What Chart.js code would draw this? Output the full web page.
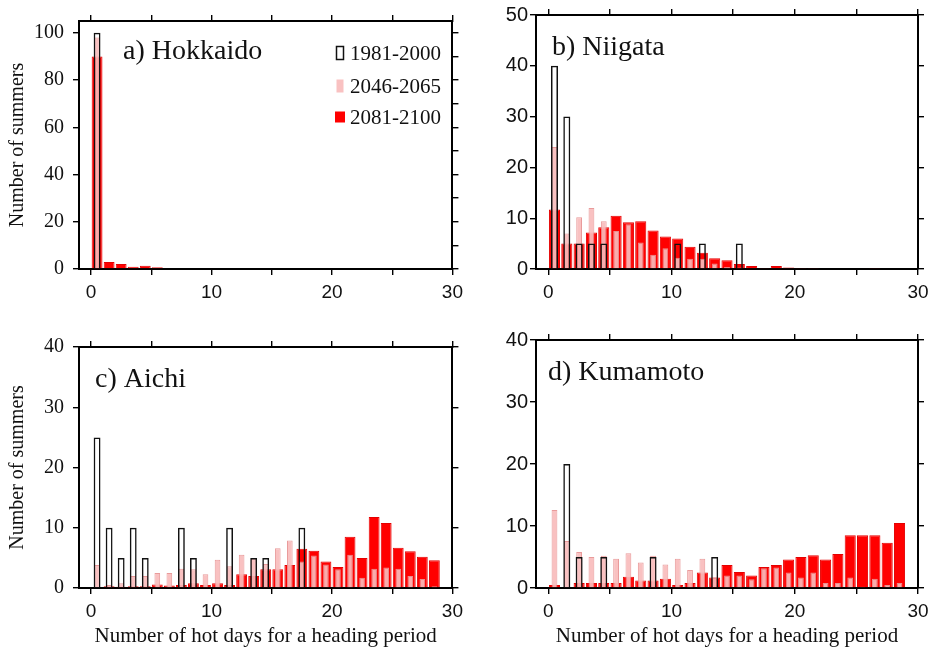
<!DOCTYPE html>
<html>
<head>
<meta charset="utf-8">
<script src="https://cdn.jsdelivr.net/npm/chart.js@4.4.1/dist/chart.umd.min.js"></script>
<style>
  html, body { margin: 0; padding: 0; background: #fff; }
  #fig { position: relative; width: 938px; height: 652px; overflow: hidden; }
  .panel { position: absolute; width: 469px; height: 326px; }
</style>
</head>
<body>
<div id="fig">
  <div class="panel" style="left:0;top:0"><canvas id="chartA" width="469" height="326"></canvas></div>
  <div class="panel" style="left:469px;top:0"><canvas id="chartB" width="469" height="326"></canvas></div>
  <div class="panel" style="left:0;top:326px"><canvas id="chartC" width="469" height="326"></canvas></div>
  <div class="panel" style="left:469px;top:326px"><canvas id="chartD" width="469" height="326"></canvas></div>
</div>
<script>
// number of hot days (histogram bins), bars drawn at bin centre
var hotDays = [0, 1, 2, 3, 4, 5, 6, 7, 8, 9, 10, 11, 12, 13, 14, 15, 16, 17, 18, 19, 20, 21, 22, 23, 24, 25, 26, 27, 28, 29];
var periods = ['1981-2000', '2046-2065', '2081-2100'];

// a) Hokkaido
var hokkaido1981 = [100, 0, 0, 0, 0, 0, 0, 0, 0, 0, 0, 0, 0, 0, 0, 0, 0, 0, 0, 0, 0, 0, 0, 0, 0, 0, 0, 0, 0, 0];
var hokkaido2046 = [98, 0, 0, 0, 0, 0, 0, 0, 0, 0, 0, 0, 0, 0, 0, 0, 0, 0, 0, 0, 0, 0, 0, 0, 0, 0, 0, 0, 0, 0];
var hokkaido2081 = [90, 3.0, 2.1, 1.0, 1.4, 0.7, 0.3, 0, 0, 0, 0, 0, 0, 0, 0, 0, 0, 0, 0, 0, 0, 0, 0, 0, 0, 0, 0, 0, 0, 0];

// b) Niigata
var niigata1981 = [40, 30, 5, 5, 5, 0, 0, 0, 0, 0, 5, 0, 5, 0, 0, 5, 0, 0, 0, 0, 0, 0, 0, 0, 0, 0, 0, 0, 0, 0];
var niigata2046 = [24, 7, 10.2, 12, 9.4, 7.5, 8.8, 5.2, 2.8, 4.1, 2.2, 2, 2, 1.1, 0.4, 0.3, 0, 0, 0, 0, 0, 0, 0, 0, 0, 0, 0, 0, 0, 0];
var niigata2081 = [11.7, 5, 5, 7.2, 8.2, 10.5, 9.2, 9.4, 7.6, 6.4, 6, 4.4, 3.2, 2.1, 1.7, 1, 0.6, 0.2, 0.6, 0.3, 0.1, 0.2, 0, 0, 0, 0, 0.1, 0, 0, 0];

// c) Aichi
var aichi1981 = [25, 10, 5, 10, 5, 0, 0, 10, 5, 0, 0, 10, 0, 5, 5, 0, 0, 10, 0, 0, 0, 0, 0, 0, 0, 0, 0, 0, 0, 0];
var aichi2046 = [3.8, 0.5, 0.8, 2, 2, 2.5, 2.5, 3.2, 3.1, 2.3, 4.7, 3.6, 5.5, 5, 4, 6.6, 7.9, 4.4, 5.4, 3.9, 3.1, 5.5, 1.7, 3.2, 3.4, 3.2, 2, 1.5, 0.3, 0];
var aichi2081 = [0, 0.3, 0.2, 0.3, 0.3, 0.6, 0.4, 0.5, 0.8, 0.5, 0.8, 0.5, 2.3, 2, 3.1, 3.1, 3.8, 6.5, 6.2, 4.4, 3.5, 8.5, 5, 11.8, 10.8, 6.7, 6.1, 5.2, 4.6, 0];

// d) Kumamoto
var kumamoto1981 = [0, 20, 5, 0, 5, 0, 0, 0, 5, 0, 0, 0, 0, 5, 0, 0, 0, 0, 0, 0, 0, 0, 0, 0, 0, 0, 0, 0, 0, 0];
var kumamoto2046 = [12.6, 7.6, 5.8, 5, 5.2, 4.7, 5.6, 4.1, 5.2, 3.8, 4.7, 2.9, 4.7, 1.7, 2, 2, 1.4, 3.2, 3.3, 2.5, 1.7, 2.5, 0.8, 0.8, 1.7, 0.2, 1.5, 0.5, 0.8, 0];
var kumamoto2081 = [0.5, 0, 0.8, 0.8, 0.8, 0.8, 1.8, 1.2, 1.2, 1.5, 0.5, 0.8, 2.5, 1.7, 3.7, 2.6, 2, 3.4, 3.7, 4.6, 5, 5.3, 4.6, 5.5, 8.5, 8.5, 8.5, 7.3, 10.5, 0];

var SERIF = '"Liberation Serif", "Times New Roman", serif';
var SANS = '"Liberation Sans", Arial, sans-serif';

var styles = [
    { backgroundColor: 'rgba(0,0,0,0)', borderColor: '#111', borderWidth: 1.5, barPercentage: 0.57 },
    { backgroundColor: 'rgba(248,188,188,0.92)', borderColor: 'rgba(232,150,150,0.95)', borderWidth: 1, barPercentage: 0.47 },
    { backgroundColor: '#ff0000', borderColor: '#e40000', borderWidth: 1, barPercentage: 0.9 }
];

function toPoints(values) {
    var pts = [];
    for (var i = 0; i < hotDays.length; i++) {
        if (values[i]) pts.push({ x: hotDays[i] + 0.5, y: values[i] });
    }
    return pts;
}

function fixSize(size) {
    return function(scale) {
        if (scale.isHorizontal()) scale.height = size;
        else scale.width = size;
    };
}

function makePanel(id, series, cfg) {
    var datasets = [];
    for (var k = 0; k < series.length; k++) {
        datasets.push({
            label: periods[k],
            data: toPoints(series[k]),
            backgroundColor: styles[k].backgroundColor,
            borderColor: styles[k].borderColor,
            borderWidth: styles[k].borderWidth,
            borderSkipped: 'start',
            barPercentage: styles[k].barPercentage,
            categoryPercentage: 1,
            grouped: false
        });
    }

    var gridOut = { drawOnChartArea: false, drawTicks: true, tickLength: 6, color: '#000', lineWidth: 1.4, offset: false };
    var border = { display: true, color: '#000', width: 2 };

    var labelPlugin = {
        id: 'panelText',
        afterDraw: function(chart) {
            var ctx = chart.ctx, a = chart.chartArea;
            ctx.save();
            ctx.fillStyle = '#111';
            ctx.textBaseline = 'alphabetic';
            ctx.textAlign = 'left';
            ctx.font = '28px ' + SERIF;
            ctx.fillText(cfg.label, a.left + cfg.labelX, a.top + cfg.labelY);
            if (cfg.legend) {
                var rows = [32, 65, 96];
                for (var k = 0; k < 3; k++) {
                    var cy = a.top + rows[k];
                    var st = styles[k];
                    var bw = k === 2 ? 10 : 7, bh = k === 2 ? 11 : 13;
                    var bx = a.left + 261 - bw / 2;
                    ctx.fillStyle = st.backgroundColor;
                    ctx.fillRect(bx, cy - bh / 2, bw, bh);
                    if (k === 0) {
                        ctx.strokeStyle = st.borderColor;
                        ctx.lineWidth = 1.5;
                        ctx.strokeRect(bx, cy - bh / 2, bw, bh);
                    }
                    ctx.fillStyle = '#111';
                    ctx.font = '21px ' + SERIF;
                    ctx.textBaseline = 'middle';
                    ctx.fillText(periods[k], a.left + 271, cy + 1);
                }
            }
            ctx.restore();
        }
    };

    new Chart(document.getElementById(id).getContext('2d'), {
        type: 'bar',
        data: { datasets: datasets },
        options: {
            responsive: false,
            animation: false,
            devicePixelRatio: 1,
            layout: { padding: 0 },
            plugins: { legend: { display: false }, tooltip: { enabled: false } },
            scales: {
                x: {
                    type: 'linear', position: 'bottom', min: -1, max: 30, offset: false,
                    grid: gridOut, border: border,
                    ticks: {
                        stepSize: 5, includeBounds: false, padding: 6, color: '#111',
                        font: { family: SANS, size: 19 }, maxRotation: 0,
                        callback: function(v) { return v % 10 === 0 ? String(v) : ''; }
                    },
                    title: {
                        display: cfg.xTitle, text: 'Number of hot days for a heading period',
                        color: '#111', font: { family: SERIF, size: 21 }, padding: { top: 0, bottom: 3 }
                    },
                    afterFit: fixSize(cfg.bottom)
                },
                x2: {
                    type: 'linear', position: 'top', min: -1, max: 30, offset: false,
                    grid: gridOut, border: border,
                    ticks: { stepSize: 5, includeBounds: false, display: false },
                    afterFit: fixSize(cfg.top)
                },
                y: {
                    type: 'linear', position: 'left', min: 0, max: cfg.yMax,
                    grid: gridOut, border: border,
                    ticks: {
                        stepSize: 10, includeBounds: false, padding: cfg.yPad, color: '#111',
                        font: { family: cfg.yFont, size: cfg.yFontSize },
                        callback: function(v) { return v % cfg.yLabelEvery === 0 ? String(v) : ''; }
                    },
                    title: {
                        display: cfg.yTitle, text: 'Number of summers',
                        color: '#111', font: { family: SERIF, size: 20 }, padding: { top: 6, bottom: 0 }
                    },
                    afterFit: fixSize(cfg.left)
                },
                y2: {
                    type: 'linear', position: 'right', min: 0, max: cfg.yMax,
                    grid: gridOut, border: border,
                    ticks: { stepSize: 10, includeBounds: false, display: false },
                    afterFit: fixSize(cfg.right)
                }
            }
        },
        plugins: [labelPlugin]
    });
}

document.addEventListener('DOMContentLoaded', function() {
    makePanel('chartA', [hokkaido1981, hokkaido2046, hokkaido2081], {
        label: 'a) Hokkaido', labelX: 44, labelY: 38, legend: true,
        yMax: 105, yLabelEvery: 20, yFont: SERIF, yFontSize: 20, yPad: 9,
        left: 79, right: 7, top: 15, bottom: 57, xTitle: false, yTitle: true
    });
    makePanel('chartB', [niigata1981, niigata2046, niigata2081], {
        label: 'b) Niigata', labelX: 16, labelY: 40, legend: false,
        yMax: 50, yLabelEvery: 10, yFont: SANS, yFontSize: 20, yPad: 2,
        left: 67, right: 20, top: 15, bottom: 57, xTitle: false, yTitle: false
    });
    makePanel('chartC', [aichi1981, aichi2046, aichi2081], {
        label: 'c) Aichi', labelX: 16, labelY: 40, legend: false,
        yMax: 40, yLabelEvery: 10, yFont: SERIF, yFontSize: 20, yPad: 9,
        left: 79, right: 7, top: 9, bottom: 64, xTitle: true, yTitle: true
    });
    makePanel('chartD', [kumamoto1981, kumamoto2046, kumamoto2081], {
        label: 'd) Kumamoto', labelX: 12, labelY: 40, legend: false,
        yMax: 40, yLabelEvery: 10, yFont: SANS, yFontSize: 20, yPad: 2,
        left: 67, right: 20, top: 9, bottom: 64, xTitle: true, yTitle: false
    });
});
</script>
</body>
</html>
